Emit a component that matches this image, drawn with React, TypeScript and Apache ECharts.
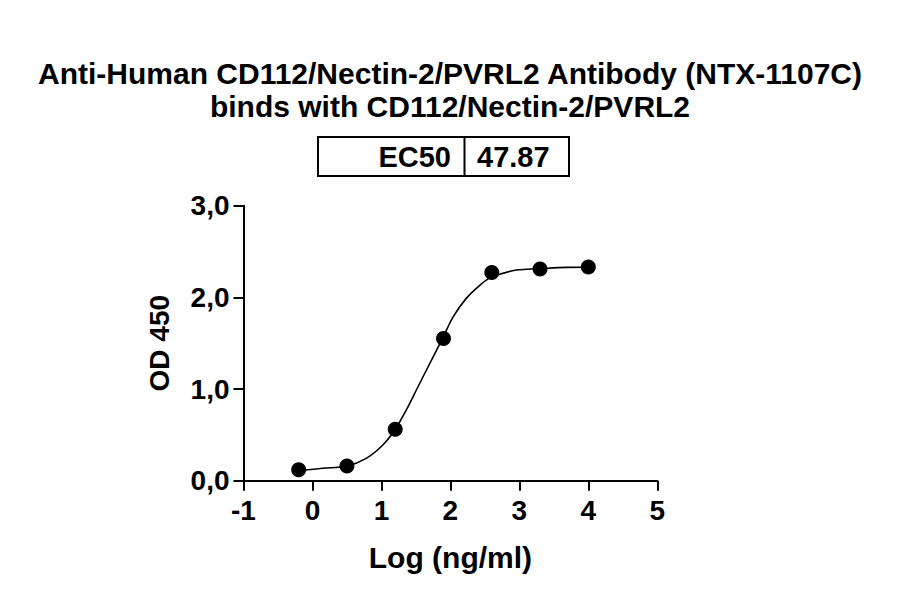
import React, { useEffect, useRef } from "react";
import * as echarts from "echarts";

const titleLines = [
  "Anti-Human CD112/Nectin-2/PVRL2 Antibody (NTX-1107C)",
  "binds with CD112/Nectin-2/PVRL2",
];
const ec50Label = "EC50";
const ec50Value = "47.87";
const xAxisName = "Log (ng/ml)";
const yAxisName = "OD 450";

// measured points
const logConc = [-0.2, 0.5, 1.2, 1.9, 2.6, 3.3, 4.0];
const od450 = [0.12, 0.16, 0.56, 1.55, 2.27, 2.31, 2.33];

// fitted curve
const fitX = [-0.19, 0.15, 0.5, 0.78, 1.02, 1.2, 1.36, 1.53, 1.75, 1.89, 2.04, 2.23, 2.43, 2.59, 2.96, 3.29, 3.68, 4.0];
const fitY = [0.111, 0.135, 0.16, 0.244, 0.389, 0.561, 0.771, 1.025, 1.352, 1.559, 1.788, 1.989, 2.134, 2.218, 2.298, 2.312, 2.327, 2.329];

const FONT = "'Liberation Sans', Arial, sans-serif";

export default function App() {
  const ref = useRef<HTMLDivElement>(null);
  useEffect(() => {
    if (!ref.current) return;
    const chart = echarts.init(ref.current, undefined, { renderer: "svg" });
    const fitData = fitX.map((x, i) => [x, fitY[i]]);
    const ptData = logConc.map((x, i) => [x, od450[i]]);
    chart.setOption({
      animation: false,
      backgroundColor: "#ffffff",
      title: {
        text: titleLines.join("\n"),
        left: "center",
        top: 52,
        textStyle: {
          fontFamily: FONT,
          fontWeight: "bold",
          fontSize: 30,
          lineHeight: 33,
          color: "#000",
        },
      },
      grid: { left: 243.5, right: 242.7, top: 205.7, bottom: 113.3, containLabel: false },
      xAxis: {
        type: "value",
        min: -1,
        max: 5,
        interval: 1,
        name: xAxisName,
        nameLocation: "middle",
        nameGap: 62,
        nameTextStyle: { fontFamily: FONT, fontWeight: "bold", fontSize: 30, color: "#000" },
        axisLine: { show: true, onZero: false, lineStyle: { color: "#000", width: 2 } },
        axisTick: { show: true, inside: false, length: 10, lineStyle: { color: "#000", width: 2 } },
        axisLabel: { fontFamily: FONT, fontWeight: "bold", fontSize: 28, color: "#000", margin: 16 },
        splitLine: { show: false },
      },
      yAxis: {
        type: "value",
        min: 0,
        max: 3,
        interval: 1,
        name: yAxisName,
        nameLocation: "middle",
        nameGap: 70,
        nameRotate: 90,
        nameTextStyle: { fontFamily: FONT, fontWeight: "bold", fontSize: 28, color: "#000" },
        axisLine: { show: true, onZero: false, lineStyle: { color: "#000", width: 2 } },
        axisTick: { show: true, inside: false, length: 10, lineStyle: { color: "#000", width: 2 } },
        axisLabel: {
          fontFamily: FONT,
          fontWeight: "bold",
          fontSize: 28,
          color: "#000",
          margin: 14,
          formatter: (v: number) => v.toFixed(1).replace(".", ","),
        },
        splitLine: { show: false },
      },
      graphic: [
        {
          type: "rect",
          shape: { x: 318, y: 137, width: 251, height: 39 },
          style: { fill: "#fff", stroke: "#000", lineWidth: 2 },
        },
        {
          type: "line",
          shape: { x1: 464.5, y1: 137, x2: 464.5, y2: 176 },
          style: { stroke: "#000", lineWidth: 2 },
        },
        {
          type: "text",
          x: 451,
          y: 157,
          style: {
            text: ec50Label,
            fontFamily: FONT,
            fontWeight: "bold",
            fontSize: 29,
            fill: "#000",
            align: "right",
            verticalAlign: "middle",
          },
        },
        {
          type: "text",
          x: 477,
          y: 157,
          style: {
            text: ec50Value,
            fontFamily: FONT,
            fontWeight: "bold",
            fontSize: 29,
            fill: "#000",
            align: "left",
            verticalAlign: "middle",
          },
        },
      ],
      series: [
        {
          type: "line",
          data: fitData,
          smooth: 0.35,
          showSymbol: false,
          symbol: "none",
          lineStyle: { color: "#000", width: 1.6 },
          z: 2,
        },
        {
          type: "scatter",
          data: ptData,
          symbol: "circle",
          symbolSize: 15,
          itemStyle: { color: "#000", opacity: 1 },
          z: 3,
        },
      ],
    });
    return () => chart.dispose();
  }, []);
  return (
    <div
      ref={ref}
      style={{ position: "fixed", left: 0, top: 0, width: 900, height: 594, background: "#fff" }}
    />
  );
}
